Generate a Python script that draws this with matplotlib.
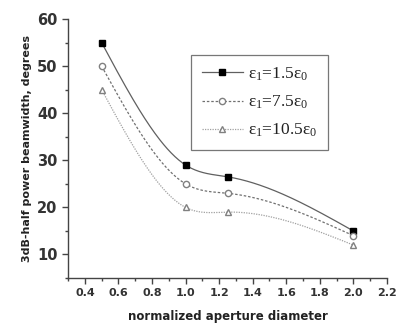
import numpy as np
import matplotlib
matplotlib.use("Agg")
import matplotlib.pyplot as plt
from matplotlib.ticker import MultipleLocator

x = [0.5, 1.0, 1.25, 2.0]
s1 = [55, 29, 26.5, 15]
s2 = [50, 25, 23, 14]
s3 = [45, 20, 19, 12]
labels = ["\u03b5$_1$=1.5\u03b5$_0$",
          "\u03b5$_1$=7.5\u03b5$_0$",
          "\u03b5$_1$=10.5\u03b5$_0$"]

plt.rcParams['mathtext.fontset'] = 'custom'
plt.rcParams['mathtext.rm'] = 'Liberation Serif'
plt.rcParams['mathtext.it'] = 'Liberation Serif'
plt.rcParams['mathtext.bf'] = 'Liberation Serif:bold'


def smooth(xs, ys, n=200):
    # natural cubic spline for drawing the connecting line only
    xs = np.asarray(xs, float); ys = np.asarray(ys, float)
    k = len(xs)
    h = np.diff(xs)
    A = np.zeros((k, k)); b = np.zeros(k)
    A[0, 0] = A[-1, -1] = 1
    for i in range(1, k - 1):
        A[i, i - 1] = h[i - 1]; A[i, i] = 2 * (h[i - 1] + h[i]); A[i, i + 1] = h[i]
        b[i] = 6 * ((ys[i + 1] - ys[i]) / h[i] - (ys[i] - ys[i - 1]) / h[i - 1])
    M = np.linalg.solve(A, b)
    xx = np.linspace(xs[0], xs[-1], n)
    yy = np.empty_like(xx)
    for j, t in enumerate(xx):
        i = min(np.searchsorted(xs, t, side='right') - 1, k - 2)
        a, c = xs[i], xs[i + 1]; hi = c - a
        yy[j] = (M[i] * (c - t) ** 3 / (6 * hi) + M[i + 1] * (t - a) ** 3 / (6 * hi)
                 + (ys[i] / hi - M[i] * hi / 6) * (c - t)
                 + (ys[i + 1] / hi - M[i + 1] * hi / 6) * (t - a))
    return xx, yy


fig = plt.figure(figsize=(3.96, 3.24), dpi=100)
ax = fig.add_axes([0.172, 0.142, 0.805, 0.799])

styles = [
    dict(color='#606060', ls='-', lw=0.9, marker='s', mfc='black', mec='black', ms=4),
    dict(color='#707070', ls=(0, (2, 1.5)), lw=0.9, marker='o', mfc='white', mec='#808080', ms=4.5),
    dict(color='#a0a0a0', ls=(0, (1, 1)), lw=0.9, marker='^', mfc='white', mec='#808080', ms=5),
]
for ys, st, lab in zip([s1, s2, s3], styles, labels):
    xx, yy = smooth(x, ys)
    ax.plot(xx, yy, color=st['color'], ls=st['ls'], lw=st['lw'])
    ax.plot(x, ys, ls='none', marker=st['marker'], mfc=st['mfc'], mec=st['mec'], ms=st['ms'])
    ax.plot([], [], color=st['color'], ls=st['ls'], lw=st['lw'], marker=st['marker'],
            mfc=st['mfc'], mec=st['mec'], ms=st['ms'], label=lab)

ax.set_xlim(0.3, 2.2)
ax.set_ylim(5, 60)
ax.xaxis.set_minor_locator(MultipleLocator(0.1))
ax.yaxis.set_minor_locator(MultipleLocator(5))
ax.set_xticks(np.arange(0.4, 2.21, 0.2))
ax.set_xticklabels([f"{v:.1f}" for v in np.arange(0.4, 2.21, 0.2)])
ax.set_yticks([10, 20, 30, 40, 50, 60])

for s in ['top', 'right']:
    ax.spines[s].set_visible(False)
for s in ['left', 'bottom']:
    ax.spines[s].set_color('#444444')
    ax.spines[s].set_linewidth(1.0)
ax.tick_params(which='both', direction='out', color='#444444', width=1.0)
ax.tick_params(which='major', length=4)
ax.tick_params(which='minor', length=2.5)
ax.tick_params(axis='x', labelsize=8)
ax.tick_params(axis='y', labelsize=10.5)
for lab in ax.get_xticklabels() + ax.get_yticklabels():
    lab.set_fontweight('bold')
    lab.set_color('#333333')

ax.set_xlabel("normalized aperture diameter", fontsize=8.5, fontweight='bold', color='#222222', labelpad=8)
ax.set_ylabel("3dB-half power beamwidth, degrees", fontsize=8, fontweight='bold', color='#222222', labelpad=4)

leg = ax.legend(loc='upper left', bbox_to_anchor=(0.386, 0.861), frameon=True,
                prop={'family': 'Liberation Serif', 'size': 12.5},
                fancybox=False, edgecolor='#555555', handlelength=2.4, handletextpad=0.3,
                borderpad=0.6, labelspacing=0.62, borderaxespad=0)
leg.get_frame().set_linewidth(0.9)
for t in leg.get_texts():
    t.set_color('#222222')

fig.savefig("out.png", dpi=100)
